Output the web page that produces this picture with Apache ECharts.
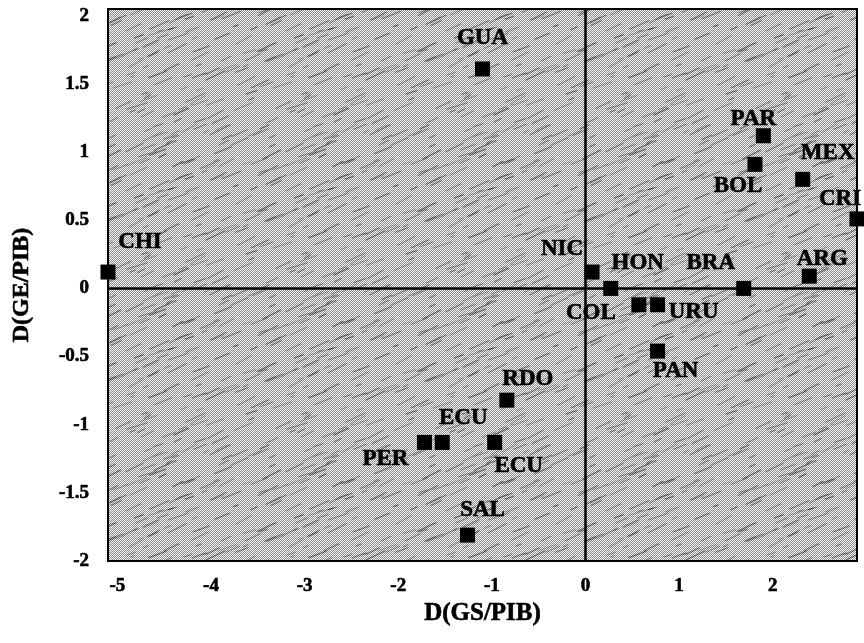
<!DOCTYPE html>
<html>
<head>
<meta charset="utf-8">
<script src="https://cdn.jsdelivr.net/npm/echarts@6/dist/echarts.min.js"></script>
<style>
  html, body { margin: 0; padding: 0; background: #fff; }
  #chart { width: 864px; height: 643px; }
</style>
</head>
<body>
<div id="chart"></div>
<script>
// country codes and their (D(GS/PIB), D(GE/PIB)) values
var countries = ['GUA', 'CHI', 'PAR', 'BOL', 'MEX', 'CRI', 'ARG', 'BRA', 'NIC', 'HON',
                 'COL', 'URU', 'PAN', 'RDO', 'PER', 'ECU', 'ECU', 'SAL'];
var gsValues = [-1.10, -5.10, 1.90, 1.81, 2.32, 2.90, 2.39, 1.69, 0.07, 0.27,
                0.57, 0.77, 0.77, -0.84, -1.72, -1.53, -0.97, -1.26];
var geValues = [1.61, 0.12, 1.12, 0.91, 0.80, 0.51, 0.09, 0.00, 0.12, 0.00,
                -0.12, -0.12, -0.46, -0.82, -1.13, -1.13, -1.13, -1.81];
var xTicks = [-5, -4, -3, -2, -1, 0, 1, 2];
var yTicks = [-2, -1.5, -1, -0.5, 0, 0.5, 1, 1.5, 2];

// where each label sits relative to its marker (px)
var labelOffsets = [[0, -31], [32, -30], [-10, -17], [-17, 22], [25, -26], [-17, -20],
                    [13, -17], [-33, -25], [-30, -23], [27, -25], [-48, 8], [36, 7],
                    [18, 20], [21, -21], [-39, 17], [21, -24], [24, 24], [15, -25]];

// grey dithered texture with faint diagonal streaks, like the printed background
function makeTexture() {
  var n = 160;
  var c = document.createElement('canvas');
  c.width = n; c.height = n;
  var ctx = c.getContext('2d');
  var img = ctx.createImageData(n, n);
  for (var y = 0; y < n; y++) {
    for (var x = 0; x < n; x++) {
      var v = ((x + y) % 2 === 0) ? 245 : 140;
      var i = (y * n + x) * 4;
      img.data[i] = img.data[i + 1] = img.data[i + 2] = v;
      img.data[i + 3] = 255;
    }
  }
  ctx.putImageData(img, 0, 0);
  var seed = 11;
  function next() { seed = (seed * 1103515245 + 12345) % 2147483648; return seed / 2147483648; }
  for (var k = 0; k < 140; k++) {
    var sx = next() * n, sy = next() * n, len = 5 + next() * 16;
    var slope = 0.3 + next() * 0.25;
    ctx.strokeStyle = 'rgba(30,30,30,' + (0.25 + next() * 0.3).toFixed(2) + ')';
    ctx.lineWidth = 0.8 + next() * 0.8;
    for (var dx = -n; dx <= n; dx += n) {
      for (var dy = -n; dy <= n; dy += n) {
        ctx.beginPath();
        ctx.moveTo(sx + dx, sy + dy);
        ctx.lineTo(sx + dx + len, sy + dy - len * slope);
        ctx.stroke();
      }
    }
  }
  return c;
}

var chart = echarts.init(document.getElementById('chart'));
var serif = '"Liberation Serif", "DejaVu Serif", serif';
var boldText = {
  fontFamily: serif, fontWeight: 'bold', color: '#000',
  textBorderColor: '#000', textBorderWidth: 0.6
};

var points = countries.map(function (name, i) {
  return {
    name: name,
    value: [gsValues[i], geValues[i]],
    label: { offset: labelOffsets[i] }
  };
});

chart.setOption({
  animation: false,
  grid: {
    left: 108,
    top: 9,
    width: 749,
    height: 552,
    show: true,
    backgroundColor: { image: makeTexture(), repeat: 'repeat' },
    borderColor: '#000',
    borderWidth: 2
  },
  xAxis: {
    type: 'value',
    min: -5.1,
    max: 2.9,
    name: 'D(GS/PIB)',
    nameLocation: 'middle',
    nameGap: 36,
    nameTextStyle: Object.assign({ fontSize: 25 }, boldText),
    axisLine: { show: false },
    axisTick: { show: false },
    splitLine: { show: false },
    axisLabel: Object.assign({ customValues: xTicks, margin: 16, fontSize: 19 }, boldText)
  },
  yAxis: {
    type: 'value',
    min: -2,
    max: 2.05,
    name: 'D(GE/PIB)',
    nameLocation: 'middle',
    nameGap: 74,
    nameTextStyle: Object.assign({ fontSize: 24 }, boldText),
    axisLine: { show: false },
    axisTick: { show: false },
    splitLine: { show: false },
    axisLabel: Object.assign({ customValues: yTicks, margin: 19, fontSize: 19 }, boldText)
  },
  series: [{
    type: 'scatter',
    symbol: 'rect',
    symbolSize: 15,
    clip: false,
    itemStyle: { color: '#000', opacity: 1 },
    label: Object.assign({
      show: true,
      position: 'inside',
      formatter: '{b}',
      fontSize: 23
    }, boldText),
    data: points,
    markLine: {
      silent: true,
      symbol: 'none',
      label: { show: false },
      lineStyle: { color: '#000', width: 2.5, type: 'solid', opacity: 1 },
      data: [{ xAxis: 0 }, { yAxis: 0 }]
    }
  }]
});
</script>
</body>
</html>
